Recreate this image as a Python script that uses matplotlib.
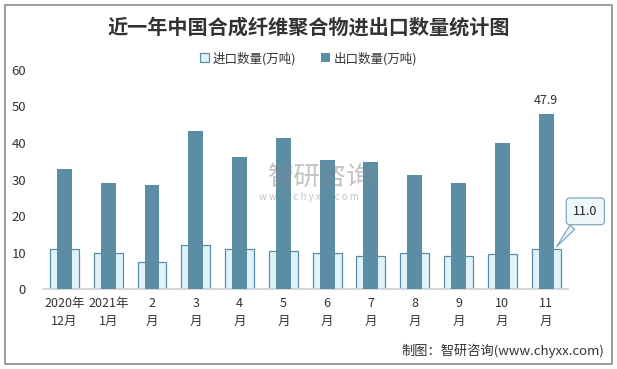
import matplotlib.pyplot as plt
import numpy as np
from matplotlib.patches import Rectangle

plt.rcParams['font.family'] = ['Noto Sans CJK SC', 'DejaVu Sans']

months = ['2020年\n12月', '2021年\n1月', '2\n月', '3\n月', '4\n月', '5\n月',
          '6\n月', '7\n月', '8\n月', '9\n月', '10\n月', '11\n月']
imports = [10.9, 9.8, 7.3, 12.0, 10.9, 10.3, 9.8, 9.0, 9.8, 9.0, 9.5, 11.0]
exports = [32.9, 29.0, 28.5, 43.3, 36.2, 41.4, 35.3, 34.8, 31.2, 29.0, 40.0, 47.9]

dark = '#5B8DA5'
light = '#E1F3FA'

fig = plt.figure(figsize=(6.17, 3.69), dpi=100)
fig.patches.append(Rectangle((0.008, 0.014), 0.984, 0.972, transform=fig.transFigure,
                             fill=False, edgecolor='#8c8c8c', linewidth=1.2))
ax = fig.add_axes([0.069, 0.2168, 0.8515, 0.5935])

x = np.arange(len(months))
ax.bar(x, imports, width=0.66, color=light, edgecolor=dark, linewidth=0.9,
       label='进口数量(万吨)', zorder=2)
ax.bar(x, exports, width=0.34, color=dark, edgecolor=dark, linewidth=0,
       label='出口数量(万吨)', zorder=3)

ax.set_xlim(-0.5, len(months) - 0.5)
ax.set_ylim(0, 60)
ax.set_yticks(np.arange(0, 61, 10))
ax.set_xticks(x)
ax.set_xticklabels(months, fontsize=9, color='#333333', linespacing=1.5)
ax.tick_params(axis='y', length=0, labelsize=9.5, labelcolor='#333333', pad=12)
ax.tick_params(axis='x', length=0, pad=6)
for s in ['left', 'right', 'top']:
    ax.spines[s].set_visible(False)
ax.spines['bottom'].set_color('#d0d0d0')
ax.spines['bottom'].set_linewidth(1.2)

# data labels
ax.annotate(f'{exports[-1]:.1f}', (x[-1], exports[-1]), xytext=(0, 5),
            textcoords='offset points', ha='center', va='bottom', fontsize=9,
            color='#333333')
ax.annotate(f'{imports[-1]:.1f}', (x[-1] + 0.2, imports[-1]), xytext=(22, 27),
            textcoords='offset points', ha='center', va='center', fontsize=9,
            color='#222222', zorder=5,
            bbox=dict(boxstyle='round,pad=0.55,rounding_size=0.3', fc='#EEF8FA',
                      ec='#7FA8BC', lw=0.9),
            arrowprops=dict(arrowstyle='wedge,tail_width=0.5', fc='#EEF8FA',
                            ec='#7FA8BC', lw=0.9))

# watermark
fig.text(0.52, 0.518, '智研咨询', fontsize=19, color='#888888', alpha=0.5,
         ha='center', va='center', zorder=10)
fig.text(0.5, 0.466, 'w w w . c h y x x . c o m', fontsize=7, color='#888888',
         alpha=0.5, ha='center', va='center', zorder=10)

fig.text(0.5, 0.927, '近一年中国合成纤维聚合物进出口数量统计图', fontsize=14.5,
         fontweight='bold', color='#333333', ha='center', va='center')
fig.legend(loc='center', bbox_to_anchor=(0.5, 0.842), ncol=2, frameon=False,
           fontsize=9, handlelength=0.7, handleheight=0.7, handletextpad=0.3,
           columnspacing=2.0, labelcolor='#333333')
fig.text(0.98, 0.048, '制图：智研咨询(www.chyxx.com)', fontsize=9.5,
         color='#333333', ha='right', va='center')

plt.savefig('out.png', dpi=100)
